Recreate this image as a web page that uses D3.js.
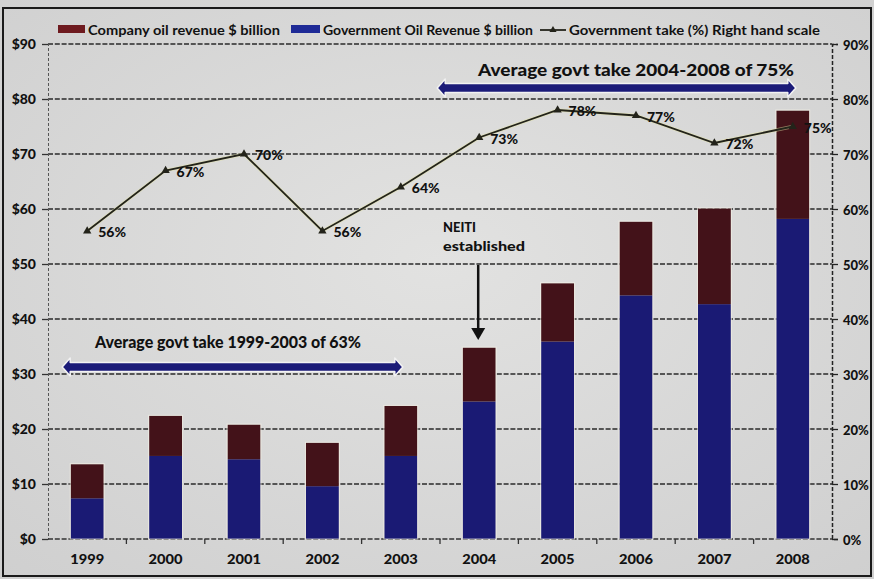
<!DOCTYPE html>
<html>
<head>
<meta charset="utf-8">
<script src="https://cdn.jsdelivr.net/npm/d3@7/dist/d3.min.js"></script>
<style>
  html, body { margin: 0; padding: 0; background: #d6d6d6; }
  svg { display: block; }
  text { font-family: Lato, "Open Sans", "DejaVu Sans", sans-serif; font-weight: 900; fill: #111; }
</style>
</head>
<body>
<svg id="chart" width="874" height="579"></svg>
<script>
// Nigeria oil revenue split and government take, 1999-2008
const years = ["1999", "2000", "2001", "2002", "2003", "2004", "2005", "2006", "2007", "2008"];
const governmentRevenue = [7.4, 15.1, 14.5, 9.6, 15.1, 25.0, 35.9, 44.3, 42.7, 58.2];
const companyRevenue = [6.2, 7.3, 6.3, 7.9, 9.1, 9.8, 10.6, 13.4, 17.4, 19.7];
const governmentTake = [56, 67, 70, 56, 64, 73, 78, 77, 72, 75];
const dollarTicks = [0, 10, 20, 30, 40, 50, 60, 70, 80, 90];
const percentTicks = [0, 10, 20, 30, 40, 50, 60, 70, 80, 90];

const seriesNames = ["Company oil revenue $ billion", "Government Oil Revenue $ billion", "Government take (%) Right hand scale"];
const colors = { company: "#431219", government: "#1a1a74", line: "#23231a", arrow: "#1b1b78" };

const svg = d3.select("#chart");
const W = 874, H = 579;
const plot = { left: 48, right: 832, top: 44, bottom: 539 };

// background with soft light falloff
const defs = svg.append("defs");
const bg = defs.append("radialGradient").attr("id", "bg").attr("cx", "50%").attr("cy", "45%").attr("r", "75%");
bg.append("stop").attr("offset", "0%").attr("stop-color", "#e2e2e1");
bg.append("stop").attr("offset", "100%").attr("stop-color", "#cfcfcf");
svg.append("rect").attr("width", W).attr("height", H).attr("fill", "url(#bg)");
svg.append("rect").attr("x", 3).attr("y", 8).attr("width", 868).attr("height", 568)
  .attr("fill", "none").attr("stroke", "#1a1a1a").attr("stroke-width", 2);

const x = d3.scaleBand().domain(years).range([plot.left, plot.right]).paddingInner(0.58).paddingOuter(0.29);
const y = d3.scaleLinear().domain([0, 90]).range([plot.bottom, plot.top]);
const yR = d3.scaleLinear().domain([0, 90]).range([plot.bottom, plot.top]);
const cx = d => x(d) + x.bandwidth() / 2;

// horizontal gridlines
svg.append("g").selectAll("line").data(dollarTicks.slice(1)).join("line")
  .attr("x1", plot.left).attr("x2", plot.right)
  .attr("y1", d => y(d)).attr("y2", d => y(d))
  .attr("stroke", "#2a2a2a").attr("stroke-width", 1.4).attr("stroke-dasharray", "5,1.8");

// left axis
const leftAxis = svg.append("g").attr("transform", `translate(${plot.left},0)`)
  .call(d3.axisLeft(y).tickValues(dollarTicks).tickFormat(d => "$" + d).tickSize(6).tickPadding(8));
leftAxis.select(".domain").attr("stroke", "#555").attr("stroke-dasharray", "3,2").attr("stroke-width", 1);
leftAxis.selectAll(".tick line").attr("stroke", "#333").attr("stroke-width", 1.3);
leftAxis.selectAll(".tick text").attr("x", -12).style("font-size", "14px").style("font-family", "Lato, sans-serif")
  .style("font-weight", 900).attr("fill", "#111").attr("text-anchor", "end");

// right axis
const rightAxis = svg.append("g").attr("transform", `translate(${plot.right},0)`)
  .call(d3.axisRight(yR).tickValues(percentTicks).tickFormat(d => d + "%").tickSize(6).tickPadding(6));
rightAxis.select(".domain").attr("stroke", "#222").attr("stroke-dasharray", "4,2").attr("stroke-width", 1.5);
rightAxis.selectAll(".tick line").attr("stroke", "#222").attr("stroke-width", 1.3);
rightAxis.selectAll(".tick text").attr("x", 11).style("font-size", "13px").style("font-family", "Lato, sans-serif")
  .style("font-weight", 900).attr("fill", "#111").attr("dy", "0.4em");

// bottom axis: baseline, boundary ticks, year labels
svg.append("line").attr("x1", plot.left).attr("x2", plot.right).attr("y1", y(0)).attr("y2", y(0))
  .attr("stroke", "#333").attr("stroke-width", 1.4).attr("stroke-dasharray", "5,1.8");
svg.append("g").selectAll("line").data(years.slice(1)).join("line")
  .attr("x1", d => x(d) - x.step() * x.paddingInner() / 2).attr("x2", d => x(d) - x.step() * x.paddingInner() / 2)
  .attr("y1", y(0)).attr("y2", y(0) + 5).attr("stroke", "#333").attr("stroke-width", 1.3);
svg.append("g").selectAll("text").data(years).join("text")
  .attr("x", d => cx(d)).attr("y", y(0) + 25).attr("text-anchor", "middle")
  .style("font-size", "13.5px").attr("textLength", 34).attr("lengthAdjust", "spacingAndGlyphs").text(d => d);

// stacked bars
const rows = years.map((yr, i) => ({ year: yr, government: governmentRevenue[i], company: companyRevenue[i] }));
const stacked = d3.stack().keys(["government", "company"])(rows);
svg.append("g").selectAll("g").data(stacked).join("g")
  .attr("fill", s => colors[s.key])
  .selectAll("rect").data(s => s).join("rect")
  .attr("x", d => x(d.data.year)).attr("width", x.bandwidth())
  .attr("y", d => y(d[1])).attr("height", d => y(d[0]) - y(d[1]));
// faint light halo round each bar
svg.append("g").selectAll("rect").data(rows).join("rect")
  .attr("x", d => x(d.year) - 0.5).attr("width", x.bandwidth() + 1)
  .attr("y", d => y(d.government + d.company) - 0.5).attr("height", d => y(0) - y(d.government + d.company) + 0.5)
  .attr("fill", "none").attr("stroke", "#f4f1e6").attr("stroke-width", 1).attr("stroke-opacity", 0.7);

// government take line on right-hand scale
const takePts = years.map((yr, i) => ({ year: yr, v: governmentTake[i] }));
const lineGen = d3.line().x(d => cx(d.year)).y(d => yR(d.v));
svg.append("path").datum(takePts).attr("d", lineGen)
  .attr("fill", "none").attr("stroke", "#e6e6a8").attr("stroke-width", 3.4).attr("stroke-opacity", 0.5);
svg.append("path").datum(takePts).attr("d", lineGen)
  .attr("fill", "none").attr("stroke", colors.line).attr("stroke-width", 1.8);
const tri = d3.symbol().type(d3.symbolTriangle).size(30);
svg.append("g").selectAll("path").data(takePts).join("path")
  .attr("transform", d => `translate(${cx(d.year)},${yR(d.v)})`).attr("d", tri).attr("fill", colors.line);
svg.append("g").selectAll("text").data(takePts).join("text")
  .attr("x", d => cx(d.year) + 11).attr("y", d => yR(d.v) + 6)
  .style("font-size", "14px").text(d => d.v + "%");

// double-headed period arrows
function doubleArrow(x1, x2, yc) {
  const h = 4.5, head = 8, hw = 9;
  const p = [
    [x1, yc], [x1 + head, yc - hw], [x1 + head, yc - h], [x2 - head, yc - h], [x2 - head, yc - hw],
    [x2, yc], [x2 - head, yc + hw], [x2 - head, yc + h], [x1 + head, yc + h], [x1 + head, yc + hw]
  ];
  svg.append("path").attr("d", "M" + p.map(q => q.join(",")).join("L") + "Z")
    .attr("fill", colors.arrow).attr("stroke", "#f2f2f2").attr("stroke-width", 1.5).attr("stroke-linejoin", "round");
}
const a1 = [cx("1999") - 25, cx("2003") + 2];
const a2 = [cx("2004") - 42, cx("2008") + 3];
doubleArrow(a1[0], a1[1], 367);
doubleArrow(a2[0], a2[1], 88);

svg.append("text").attr("x", 228).attr("y", 348).attr("text-anchor", "middle")
  .style("font-size", "16px").attr("textLength", 266).attr("lengthAdjust", "spacingAndGlyphs")
  .text("Average govt take 1999-2003 of 63%");
svg.append("text").attr("x", 636).attr("y", 76).attr("text-anchor", "middle")
  .style("font-size", "16px").attr("textLength", 316).attr("lengthAdjust", "spacingAndGlyphs")
  .text("Average govt take 2004-2008 of 75%");

// NEITI annotation
svg.append("text").attr("x", 443).attr("y", 232).style("font-size", "13.5px")
  .attr("textLength", 33).attr("lengthAdjust", "spacingAndGlyphs").text("NEITI");
svg.append("text").attr("x", 443).attr("y", 251).style("font-size", "13.5px")
  .attr("textLength", 82).attr("lengthAdjust", "spacingAndGlyphs").text("established");
svg.append("line").attr("x1", cx("2004") - 1).attr("x2", cx("2004") - 1).attr("y1", 265).attr("y2", 332)
  .attr("stroke", "#111").attr("stroke-width", 2.5);
svg.append("path").attr("d", `M${cx("2004") - 8},328L${cx("2004") + 6},328L${cx("2004") - 1},340Z`).attr("fill", "#111");

// legend
const lg = svg.append("g");
lg.append("rect").attr("x", 58).attr("y", 25).attr("width", 27).attr("height", 8).attr("fill", "#6e1a1f");
lg.append("text").attr("x", 88).attr("y", 35).style("font-size", "13.5px").style("font-weight", 700)
  .attr("textLength", 192).attr("lengthAdjust", "spacingAndGlyphs").text(seriesNames[0]);
lg.append("rect").attr("x", 291).attr("y", 25).attr("width", 29).attr("height", 8).attr("fill", "#1e2a96");
lg.append("text").attr("x", 323).attr("y", 35).style("font-size", "13.5px").style("font-weight", 700)
  .attr("textLength", 210).attr("lengthAdjust", "spacingAndGlyphs").text(seriesNames[1]);
lg.append("line").attr("x1", 540).attr("x2", 566).attr("y1", 30).attr("y2", 30).attr("stroke", colors.line).attr("stroke-width", 1.8);
lg.append("path").attr("transform", "translate(553,30)").attr("d", d3.symbol().type(d3.symbolTriangle).size(22)).attr("fill", colors.line);
lg.append("text").attr("x", 569).attr("y", 35).style("font-size", "13.5px").style("font-weight", 700)
  .attr("textLength", 251).attr("lengthAdjust", "spacingAndGlyphs").text(seriesNames[2]);
</script>
</body>
</html>
